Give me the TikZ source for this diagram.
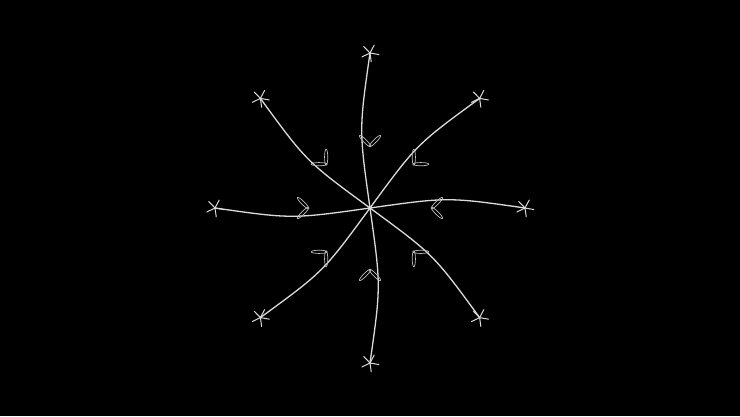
\documentclass[tikz,border=0pt]{standalone}
\tikzset{%
  orbit/.style   = {draw=white!86!black, line width=1.3pt},%
  endmark/.style = {draw=white!86!black, line width=1pt, line cap=round},%
  chevron/.style = {draw=white!75!black, line width=0.7pt},%
  asterisk/.pic  = {\draw[endmark] (0,0) -- (62:9pt) (0,0) -- (134:9pt)
                      (0,0) -- (206:9pt) (0,0) -- (278:9pt) (0,0) -- (350:9pt);}%
}
\begin{document}
\begin{tikzpicture}[x=1pt,y=1pt,
	arm/.style={x radius=8, y radius=1.6}]
	\fill[black] (-370,-208) rectangle (370,208);
	\useasboundingbox (-370,-208) rectangle (370,208);
	% sink and the eight starting points
	\coordinate (o) at (0,0);
	\coordinate (e) at (0:155);
	\coordinate (ne) at (45:155);
	\coordinate (n) at (90:155);
	\coordinate (nw) at (135:155);
	\coordinate (w) at (180:155);
	\coordinate (sw) at (225:155);
	\coordinate (s) at (270:155);
	\coordinate (se) at (315:155);
	% trajectories
	\draw[orbit] (e) .. controls ([shift={(90:11)}]0:78) .. (o);
	\draw[orbit] (ne) .. controls ([shift={(135:12)}]45:78) .. (o);
	\draw[orbit] (n) .. controls ([shift={(180:11)}]90:78) .. (o);
	\draw[orbit] (nw) .. controls ([shift={(225:12)}]135:78) .. (o);
	\draw[orbit] (w) .. controls ([shift={(270:11)}]180:78) .. (o);
	\draw[orbit] (sw) .. controls ([shift={(315:12)}]225:78) .. (o);
	\draw[orbit] (s) .. controls ([shift={(0:11)}]270:78) .. (o);
	\draw[orbit] (se) .. controls ([shift={(45:12)}]315:78) .. (o);
	% starting marks
	\pic at (e) {asterisk};
	\pic at (ne) {asterisk};
	\pic at (n) {asterisk};
	\pic at (nw) {asterisk};
	\pic at (w) {asterisk};
	\pic at (sw) {asterisk};
	\pic at (s) {asterisk};
	\pic at (se) {asterisk};
	% direction marks
	\draw[chevron] (0:62) ++(45:7) ellipse[arm, rotate=45] (0:62) ++(-45:7) ellipse[arm, rotate=-45];
	\draw[chevron] (45:62) ++(90:7) ellipse[arm, rotate=90] (45:62) ++(0:7) ellipse[arm, rotate=0];
	\draw[chevron] (90:62) ++(135:7) ellipse[arm, rotate=135] (90:62) ++(45:7) ellipse[arm, rotate=45];
	\draw[chevron] (135:62) ++(180:7) ellipse[arm, rotate=180] (135:62) ++(90:7) ellipse[arm, rotate=90];
	\draw[chevron] (180:62) ++(225:7) ellipse[arm, rotate=225] (180:62) ++(135:7) ellipse[arm, rotate=135];
	\draw[chevron] (225:62) ++(270:7) ellipse[arm, rotate=270] (225:62) ++(180:7) ellipse[arm, rotate=180];
	\draw[chevron] (270:62) ++(315:7) ellipse[arm, rotate=315] (270:62) ++(225:7) ellipse[arm, rotate=225];
	\draw[chevron] (315:62) ++(0:7) ellipse[arm, rotate=0] (315:62) ++(270:7) ellipse[arm, rotate=270];
\end{tikzpicture}
\end{document}
